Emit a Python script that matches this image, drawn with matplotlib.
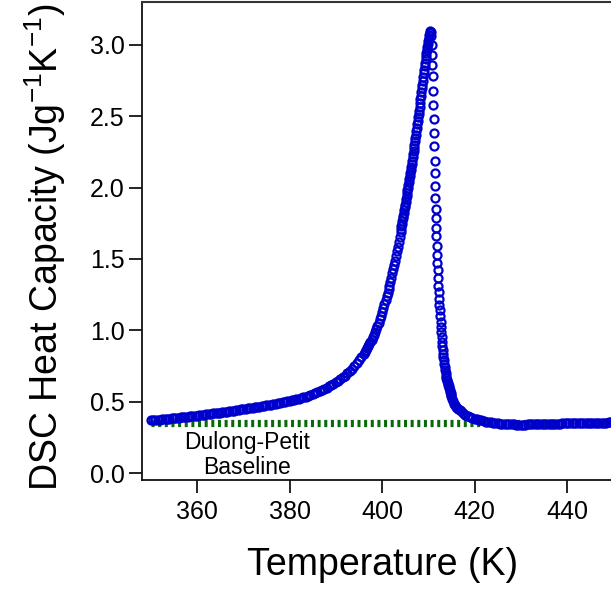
import numpy             as np
import matplotlib
import matplotlib.pyplot as plt

matplotlib.use("Agg")

# rising side of the peak (K, J g^-1 K^-1)
rise_temperature = [
    350.0, 350.5, 351.0, 351.5, 352.0, 352.5, 353.0, 353.5, 354.0, 354.5,
    355.0, 355.5, 356.0, 356.5, 357.0, 357.5, 358.0, 358.5, 359.0, 359.5,
    360.0, 360.5, 361.0, 361.5, 362.0, 362.5, 363.0, 363.5, 364.0, 364.5,
    365.0, 365.5, 366.0, 366.5, 367.0, 367.5, 368.0, 368.5, 369.0, 369.5,
    370.0, 370.5, 371.0, 371.5, 372.0, 372.5, 373.0, 373.5, 374.0, 374.5,
    375.0, 375.5, 376.0, 376.5, 377.0, 377.5, 378.0, 378.5, 379.0, 379.5,
    380.0, 380.5, 381.0, 381.5, 382.0, 382.5, 383.0, 383.5, 384.0, 384.5,
    385.0, 385.5, 386.0, 386.5, 387.0, 387.5, 388.0, 388.5, 389.0, 389.5,
    390.0, 390.5, 391.0, 391.5, 392.0, 392.5, 393.0, 393.5, 394.0, 394.5,
    395.0, 395.5,
    396.0, 396.25, 396.5, 396.75, 397.0, 397.25, 397.5, 397.75, 398.0, 398.25,
    398.5, 398.75, 399.0, 399.25, 399.5, 399.75, 400.0, 400.25, 400.5, 400.75,
    401.0,
    401.2, 401.4, 401.6, 401.8, 402.0, 402.2, 402.4, 402.6, 402.8, 403.0,
    403.2, 403.4, 403.6, 403.8, 404.0,
    404.1, 404.2, 404.3, 404.4, 404.5, 404.6, 404.7, 404.8, 404.9, 405.0,
    405.1, 405.2, 405.3, 405.4, 405.5, 405.6, 405.7, 405.8, 405.9, 406.0,
    406.1, 406.2, 406.3, 406.4, 406.5, 406.6, 406.7, 406.8, 406.9, 407.0,
    407.1, 407.2, 407.3, 407.4, 407.5, 407.6, 407.7, 407.8, 407.9, 408.0,
    408.1, 408.2, 408.3, 408.4, 408.5, 408.6, 408.7, 408.8, 408.9, 409.0,
    409.1, 409.2, 409.3, 409.4, 409.5, 409.6, 409.7, 409.8, 409.9, 410.0,
    410.1, 410.2, 410.3, 410.4,
]
rise_cp = [
    0.370, 0.371, 0.372, 0.374, 0.375, 0.377, 0.378, 0.380, 0.381, 0.383,
    0.384, 0.386, 0.388, 0.390, 0.391, 0.393, 0.395, 0.397, 0.399, 0.401,
    0.403, 0.405, 0.407, 0.409, 0.411, 0.413, 0.415, 0.418, 0.420, 0.422,
    0.424, 0.427, 0.429, 0.431, 0.433, 0.436, 0.438, 0.441, 0.443, 0.446,
    0.448, 0.451, 0.453, 0.456, 0.458, 0.461, 0.463, 0.466, 0.469, 0.471,
    0.474, 0.477, 0.480, 0.483, 0.486, 0.489, 0.492, 0.496, 0.499, 0.503,
    0.506, 0.510, 0.514, 0.518, 0.522, 0.527, 0.531, 0.536, 0.541, 0.546,
    0.552, 0.559, 0.566, 0.573, 0.581, 0.589, 0.598, 0.607, 0.616, 0.626,
    0.637, 0.648, 0.660, 0.671, 0.683, 0.699, 0.715, 0.732, 0.750, 0.770,
    0.790, 0.812,
    0.835, 0.848, 0.861, 0.874, 0.888, 0.903, 0.918, 0.934, 0.950, 0.969,
    0.989, 1.009, 1.030, 1.053, 1.077, 1.101, 1.125, 1.153, 1.181, 1.210,
    1.240,
    1.264, 1.289, 1.314, 1.341, 1.370, 1.399, 1.429, 1.459, 1.489, 1.520,
    1.553, 1.587, 1.621, 1.655, 1.690,
    1.709, 1.728, 1.747, 1.766, 1.785, 1.804, 1.823, 1.842, 1.861, 1.880,
    1.900, 1.920, 1.940, 1.960, 1.980, 2.000, 2.020, 2.040, 2.060, 2.080,
    2.102, 2.124, 2.146, 2.168, 2.190, 2.212, 2.234, 2.256, 2.278, 2.300,
    2.324, 2.348, 2.372, 2.396, 2.420, 2.444, 2.468, 2.492, 2.516, 2.540,
    2.566, 2.592, 2.618, 2.644, 2.670, 2.696, 2.722, 2.748, 2.774, 2.800,
    2.826, 2.851, 2.876, 2.900, 2.923, 2.945, 2.966, 2.986, 3.005, 3.030,
    3.052, 3.071, 3.087, 3.100,
]

# falling side, where single circles can still be told apart
fall_temperature = [
    410.55, 410.65, 410.75, 410.82, 410.90, 410.97, 411.04, 411.10, 411.16, 411.22,
    411.28, 411.34, 411.40, 411.46, 411.52, 411.58, 411.64,
    411.70, 411.76, 411.82, 411.88, 411.95, 412.02, 412.09, 412.17, 412.24, 412.32,
    412.40, 412.48, 412.56, 412.64, 412.72, 412.80, 412.88, 412.96, 413.04, 413.12,
    413.20, 413.28, 413.36, 413.45, 413.54, 413.63, 413.72, 413.82,
]
fall_cp = [
    3.090, 3.060, 3.000, 2.930, 2.860, 2.780, 2.680, 2.580, 2.480, 2.380,
    2.290, 2.190, 2.100, 2.010, 1.930, 1.850, 1.790,
    1.720, 1.660, 1.590, 1.530, 1.470, 1.420, 1.370, 1.310, 1.270, 1.220,
    1.180, 1.140, 1.100, 1.060, 1.020, 0.990, 0.950, 0.920, 0.890, 0.865,
    0.837, 0.810, 0.790, 0.764, 0.740, 0.720, 0.700, 0.680,
]

# tail back down to the baseline
tail_temperature = [
    413.9, 414.0, 414.1, 414.2, 414.3, 414.4, 414.5, 414.6, 414.7, 414.8,
    414.9, 415.0, 415.2, 415.4, 415.6, 415.8, 416.0, 416.25, 416.5, 416.75,
    417.0, 417.5, 418.0, 418.5, 419.0, 419.5, 420.0, 420.5, 421.0, 421.5,
    422.0, 422.5, 423.0, 423.5, 424.0, 424.5, 425.0, 425.5, 426.0, 426.5,
    427.0, 427.5, 428.0, 428.5, 429.0, 429.5, 430.0, 430.5, 431.0, 431.5,
    432.0, 432.5, 433.0, 433.5, 434.0, 434.5, 435.0, 435.5, 436.0, 436.5,
    437.0, 437.5, 438.0, 438.5, 439.0, 439.5, 440.0, 440.5, 441.0, 441.5,
    442.0, 442.5, 443.0, 443.5, 444.0, 444.5, 445.0, 445.5, 446.0, 446.5,
    447.0, 447.5, 448.0, 448.5, 449.0, 449.5, 450.0,
]
tail_cp = [
    0.668, 0.655, 0.643, 0.631, 0.619, 0.607, 0.595, 0.583, 0.571, 0.560,
    0.549, 0.538, 0.519, 0.502, 0.487, 0.474, 0.466, 0.456, 0.447, 0.439,
    0.432, 0.420, 0.410, 0.402, 0.395, 0.388, 0.382, 0.377, 0.372, 0.368,
    0.364, 0.360, 0.357, 0.354, 0.352, 0.349, 0.347, 0.345, 0.344, 0.343,
    0.342, 0.341, 0.340, 0.340, 0.339, 0.339, 0.339, 0.339, 0.339, 0.340,
    0.340, 0.340, 0.341, 0.341, 0.342, 0.342, 0.343, 0.343, 0.344, 0.344,
    0.345, 0.345, 0.346, 0.346, 0.347, 0.347, 0.348, 0.348, 0.348, 0.349,
    0.349, 0.349, 0.350, 0.350, 0.350, 0.351, 0.351, 0.351, 0.352, 0.352,
    0.352, 0.353, 0.353, 0.353, 0.354, 0.354, 0.354,
]

baseline_temperature = [350.0, 450.0]
baseline_cp          = [0.35, 0.35]

x_ticks = [360, 380, 400, 420, 440]
y_ticks = [0.0, 0.5, 1.0, 1.5, 2.0, 2.5, 3.0]


def create_dsc_plot(out_file: str = "out.png"):
    plt.rcParams["font.family"]      = ["Liberation Sans", "DejaVu Sans"]
    plt.rcParams["mathtext.default"] = "regular"

    fig = plt.figure(figsize = (6.11, 5.90), dpi = 100)
    ax  = fig.add_axes([142 / 611, 110 / 590, 469 / 611, 478 / 590])

    ax.plot(
        baseline_temperature, baseline_cp,
        color     = "#0a690a",
        linewidth = 5.2,
        linestyle = (0, (0.42, 0.5)),
        zorder    = 2
    )

    temperature = np.concatenate([rise_temperature, fall_temperature, tail_temperature])
    cp          = np.concatenate([rise_cp, fall_cp, tail_cp])
    ax.plot(
        temperature, cp,
        linestyle       = "none",
        marker          = "o",
        markersize      = 5.8,
        markerfacecolor = "none",
        markeredgecolor = "#0000cc",
        markeredgewidth = 1.6,
        zorder          = 3
    )

    ax.text(370.9, 0.125, "Dulong-Petit\nBaseline", ha = "center", va = "center",
            fontsize = 16.5, linespacing = 1.1)

    ax.set_xlim(348.1, 449.5)
    ax.set_ylim(-0.049, 3.301)
    ax.set_xticks(x_ticks)
    ax.set_yticks(y_ticks)
    ax.set_xticklabels([str(t) for t in x_ticks])
    ax.set_yticklabels([f"{t:.1f}" for t in y_ticks])
    ax.tick_params(direction = "out", length = 9.5, width = 1.2, labelsize = 18, pad = 3)
    ax.tick_params(axis = "x", pad = 5)

    ax.spines["right"].set_visible(False)
    for side in ["left", "bottom"]:
        ax.spines[side].set_linewidth(1.3)
        ax.spines[side].set_color("#111111")
    ax.spines["top"].set_linewidth(1.5)
    ax.spines["top"].set_color("#333333")

    ax.set_xlabel("Temperature (K)", fontsize = 27, va = "center")
    ax.set_ylabel("DSC Heat Capacity (Jg$^{-1}$K$^{-1}$)", fontsize = 27, va = "center")
    ax.xaxis.set_label_coords(0.512, -0.178)
    ax.yaxis.set_label_coords(-0.207, 0.487)

    fig.savefig(out_file, dpi = 100)


if __name__ == "__main__":
    create_dsc_plot()
